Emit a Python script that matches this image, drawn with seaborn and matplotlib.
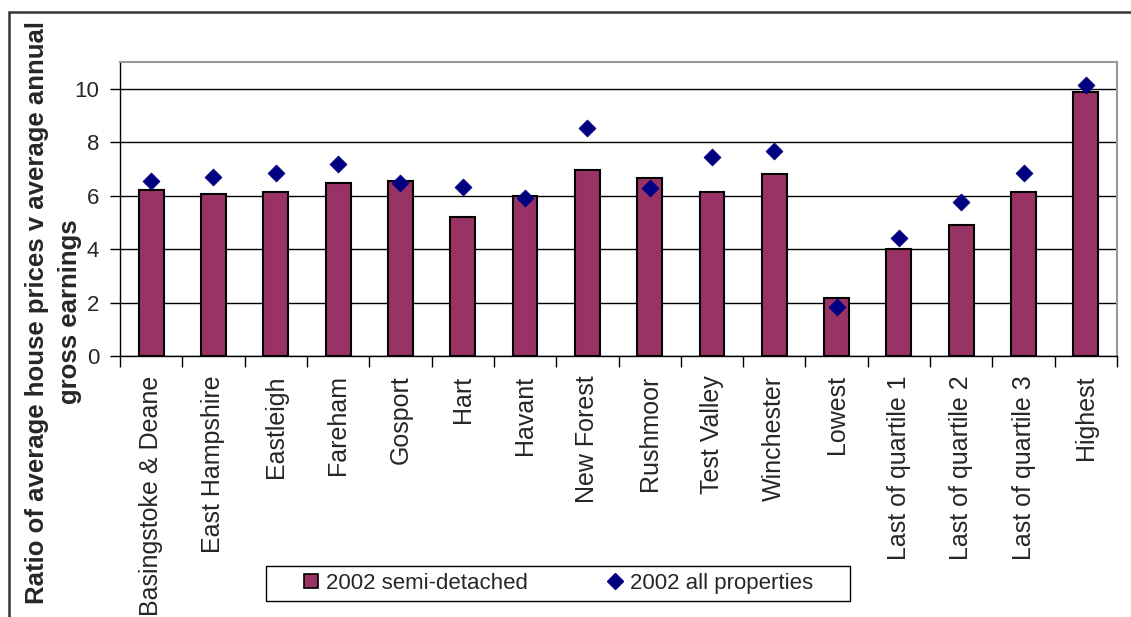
import numpy as np
import pandas as pd
import matplotlib
matplotlib.use("Agg")
import matplotlib.pyplot as plt
from matplotlib.lines import Line2D
from matplotlib.patches import Rectangle
import seaborn as sns

# chart data

areas = ["Basingstoke & Deane", "East Hampshire", "Eastleigh", "Fareham",
         "Gosport", "Hart", "Havant", "New Forest", "Rushmoor", "Test Valley",
         "Winchester", "Lowest", "Last of quartile 1", "Last of quartile 2",
         "Last of quartile 3", "Highest"]
semi_detached = [6.2, 6.05, 6.12, 6.47, 6.55, 5.2, 5.98, 6.97, 6.67, 6.12,
                 6.82, 2.17, 4.0, 4.92, 6.12, 9.86]
all_properties = [6.55, 6.7, 6.84, 7.18, 6.48, 6.33, 5.92, 8.52, 6.27, 7.46,
                  7.67, 1.83, 4.42, 5.78, 6.84, 10.14]

y_label_lines = ["Ratio of average house prices v average annual", "gross earnings"]
legend_labels = ["2002 semi-detached", "2002 all properties"]

bar_color = "#993366"
dot_color = "#000080"

df = pd.DataFrame({"area": areas, "semi": semi_detached, "all": all_properties})

# figure setup

sns.set_style("white")
plt.rcParams["font.family"] = ["Liberation Sans", "DejaVu Sans"]

W, H = 1131, 617
fig = plt.figure(figsize=(W / 100, H / 100), dpi=100)
ax = fig.add_axes([120 / W, 1 - 356 / H, (1117 - 120) / W, (356 - 62) / H])

sns.barplot(data=df, x="area", y="semi", color=bar_color, width=0.4,
            edgecolor="black", linewidth=1.5, saturation=1, ax=ax, zorder=2)
sns.scatterplot(data=df, x="area", y="all", marker="D", s=75, color=dot_color,
                edgecolor=dot_color, linewidth=0.5, ax=ax, zorder=3)

# axes styling

ax.set_ylim(0, 11)
ax.set_xlim(-0.5, len(areas) - 0.5)
ax.set_yticks(np.arange(0, 11, 2))
ax.set_yticklabels([str(v) for v in range(0, 11, 2)], fontsize=16)
ax.yaxis.grid(True, color="black", linewidth=1)
ax.set_axisbelow(True)
ax.set_xlabel("")
ax.set_ylabel("")

ax.set_xticks(range(len(areas)))
ax.set_xticklabels(areas, rotation=90, fontsize=18, va="top", ha="center")
ax.set_xticks(np.arange(-0.5, len(areas)), minor=True)
ax.tick_params(axis="x", which="major", length=0, pad=14)
ax.tick_params(axis="x", which="minor", length=8, width=1, color="black",
               direction="out", bottom=True)
ax.tick_params(axis="y", length=7, width=1, color="black", direction="out",
               left=True, pad=8)

for side in ["left", "bottom"]:
    ax.spines[side].set_color("black")
    ax.spines[side].set_linewidth(1)
for side in ["top", "right"]:
    ax.spines[side].set_color("#999999")
    ax.spines[side].set_linewidth(1.5)

# y axis title, one text per line

for x_px, line in zip([37, 70], y_label_lines):
    fig.text(x_px / W, 1 - 312 / H, line, rotation=90, fontsize=18.5,
             fontweight="bold", ha="center", va="center")

# legend

handles = [
    Line2D([], [], linestyle="none", marker="s", markersize=10,
           markerfacecolor=bar_color, markeredgecolor="black", markeredgewidth=1.2),
    Line2D([], [], linestyle="none", marker="D", markersize=8,
           markerfacecolor=dot_color, markeredgecolor=dot_color),
]
fig.legend(handles, legend_labels, loc="center", ncol=2, frameon=False,
           bbox_to_anchor=(558 / W, 1 - 583.5 / H), fontsize=16,
           handlelength=0.7, handletextpad=0.3, columnspacing=3.6)
fig.add_artist(Rectangle((266 / W, 1 - 601 / H), 584 / W, 35 / H,
                         transform=fig.transFigure, fill=False,
                         edgecolor="black", linewidth=1))

# outer chart frame (cut off at bottom and right)

fig.add_artist(Rectangle((8.5 / W, -0.1), 1.2, 1 - 12 / H + 0.1,
                         transform=fig.transFigure, fill=False,
                         edgecolor="#333333", linewidth=1.8, clip_on=False))

fig.savefig("out.png", dpi=100)
